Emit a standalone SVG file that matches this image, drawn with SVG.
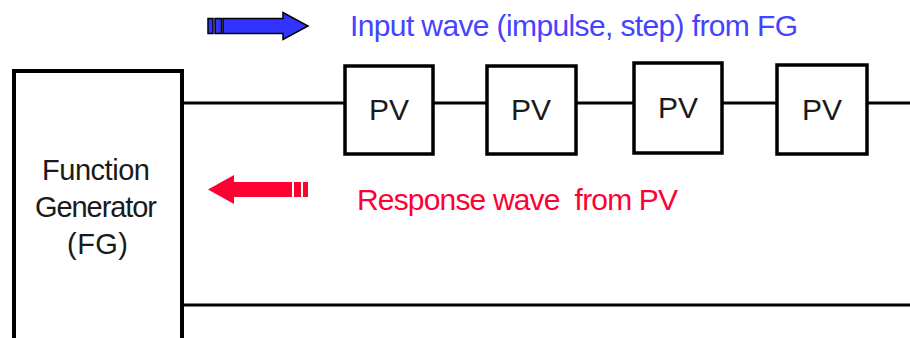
<svg xmlns="http://www.w3.org/2000/svg" width="910" height="338" viewBox="0 0 910 338">
<style>
.box{fill:#fff;stroke:#000;stroke-width:3.5}
.fg{fill:#fff;stroke:#000;stroke-width:4}
.wire{fill:none;stroke:#000;stroke-width:3}
.lbl{font-family:"Liberation Sans",Arial,sans-serif;font-size:29px;fill:#1a1a1a}
.pv{font-family:"Liberation Sans",Arial,sans-serif;font-size:30px;fill:#1a1a1a;text-anchor:middle}
.cap{font-family:"Liberation Sans",Arial,sans-serif;font-size:30px;white-space:pre}
</style>
<rect width="910" height="338" fill="#fff"/>
<g id="connectors">
<line class="wire" x1="182" y1="103" x2="345" y2="103"/>
<line class="wire" x1="433" y1="103" x2="487" y2="103"/>
<line class="wire" x1="576" y1="103" x2="634" y2="103"/>
<line class="wire" x1="722" y1="103" x2="777" y2="103"/>
<line class="wire" x1="867" y1="103" x2="910" y2="103"/>
<line class="wire" x1="182" y1="305" x2="910" y2="305"/>
</g>
<g id="fg">
<rect class="fg" x="14" y="71" width="168" height="290"/>
<text class="lbl" x="42" y="180" textLength="108">Function</text>
<text class="lbl" x="35" y="217" textLength="122">Generator</text>
<text class="lbl" x="67" y="254" textLength="61">(FG)</text>
</g>
<g id="pv1"><rect class="box" x="345" y="66" width="88" height="88"/><text class="pv" x="389" y="120">PV</text></g>
<g id="pv2"><rect class="box" x="487" y="66" width="89" height="88"/><text class="pv" x="531" y="120">PV</text></g>
<g id="pv3"><rect class="box" x="634" y="63" width="88" height="90"/><text class="pv" x="678" y="118">PV</text></g>
<g id="pv4"><rect class="box" x="777" y="65" width="90" height="89"/><text class="pv" x="822" y="120">PV</text></g>
<g id="input-arrow" fill="#3333ff" stroke="#000" stroke-width="1.5">
<rect x="208" y="18.5" width="5" height="15"/>
<rect x="215" y="18.5" width="6.5" height="15"/>
<polygon points="223,18.5 283,18.5 283,12.5 308,26 283,39.5 283,33.5 223,33.5"/>
</g>
<text id="input-label" class="cap" x="350" y="36" fill="#4444ff" textLength="448">Input wave (impulse, step) from FG</text>
<g id="response-arrow" fill="#ff0033">
<polygon points="208,189.5 234,175 234,182 292,182 292,197 234,197 234,204"/>
<rect x="294" y="182" width="7" height="15"/>
<rect x="303" y="182" width="5" height="15"/>
</g>
<text id="response-label" class="cap" x="357" y="210" fill="#ff0033" textLength="321" xml:space="preserve">Response wave  from PV</text>
</svg>
